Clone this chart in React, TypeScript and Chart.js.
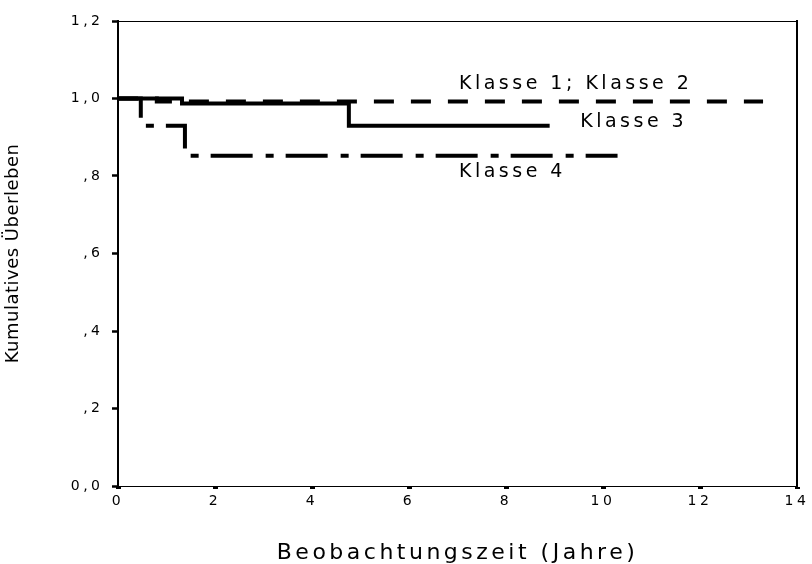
import React, { useEffect, useRef } from 'react';
import { Chart, registerables } from 'chart.js';

Chart.register(...registerables);

// ---- data ----
const timesK12 = [0, 0.8, 13.3];
const survK12 = [1.0, 0.992, 0.992];
const timesK3 = [0, 1.32, 4.76, 8.9];
const survK3 = [1.0, 0.987, 0.93, 0.93];
const timesK4 = [0, 0.47, 1.38, 10.3];
const survK4 = [1.0, 0.93, 0.852, 0.852];

const yTickValues = [0, 0.2, 0.4, 0.6, 0.8, 1.0, 1.2];
const yTickLabels = ['0,0', ',2', ',4', ',6', ',8', '1,0', '1,2'];
const xTickValues = [0, 2, 4, 6, 8, 10, 12, 14];
const xTickLabels = ['0', '2', '4', '6', '8', '10', '12', '14'];

const labelTexts = ['Klasse 1; Klasse 2', 'Klasse 3', 'Klasse 4'];
const labelTimes = [7.03, 9.53, 7.03];
const labelSurv = [1.036, 0.938, 0.809];

const FONT = '"DejaVu Sans", "Liberation Sans", sans-serif';
const SPACING = '3.5px';

const toPoints = (t: number[], s: number[]) => t.map((x, i) => ({ x, y: s[i] }));

const spacingPlugin = {
  id: 'spacing',
  beforeDraw(chart: any) {
    const ctx = chart.ctx;
    ctx.letterSpacing = SPACING;
    const y: any = chart.scales.y;
    if (y && !y.__patched) {
      const orig = y.drawTitle.bind(y);
      y.drawTitle = () => {
        const prev = ctx.letterSpacing;
        ctx.letterSpacing = '0.5px';
        orig();
        ctx.letterSpacing = prev;
      };
      y.__patched = true;
    }
  },
};

const labelsPlugin = {
  id: 'curveLabels',
  afterDatasetsDraw(chart: any) {
    const { ctx, scales } = chart;
    ctx.save();
    ctx.letterSpacing = SPACING;
    ctx.font = `19px ${FONT}`;
    ctx.fillStyle = '#000';
    ctx.textAlign = 'left';
    ctx.textBaseline = 'middle';
    labelTexts.forEach((txt, i) => {
      ctx.fillText(txt, scales.x.getPixelForValue(labelTimes[i]), scales.y.getPixelForValue(labelSurv[i]));
    });
    ctx.restore();
  },
};

export default function App() {
  const ref = useRef<HTMLCanvasElement | null>(null);

  useEffect(() => {
    if (!ref.current) return;
    Chart.defaults.color = '#000';
    const common = {
      type: 'line',
      borderColor: '#000',
      backgroundColor: '#000',
      borderWidth: 4,
      pointRadius: 0,
      stepped: true,
      fill: false,
      borderCapStyle: 'butt',
    };
    const chart = new Chart(ref.current, {
      type: 'line',
      data: {
        datasets: [
          { ...common, label: labelTexts[0], data: toPoints(timesK12, survK12), borderDash: [20, 17] },
          { ...common, label: labelTexts[1], data: toPoints(timesK3, survK3) },
          { ...common, label: labelTexts[2], data: toPoints(timesK4, survK4), borderDash: [42, 13, 8, 12] },
        ] as any,
      },
      options: {
        animation: false,
        responsive: true,
        maintainAspectRatio: false,
        layout: { padding: { top: 21, right: 15, bottom: 0, left: 0 } },
        plugins: { legend: { display: false }, tooltip: { enabled: false } },
        scales: {
          x: {
            type: 'linear',
            position: 'bottom',
            min: 0,
            max: 14,
            afterBuildTicks: (s: any) => {
              s.ticks = xTickValues.map((v) => ({ value: v }));
            },
            afterFit: (s: any) => {
              s.height = 78;
            },
            ticks: {
              font: { family: FONT, size: 14 },
              padding: 4,
              maxRotation: 0,
              autoSkip: false,
              callback: (v: any) => xTickLabels[xTickValues.indexOf(Number(v))] ?? '',
            },
            grid: { display: true, drawOnChartArea: false, drawTicks: true, tickLength: 3, tickWidth: 5, tickColor: '#000' },
            border: { display: true, color: '#000', width: 1 },
            title: {
              display: true,
              text: 'Beobachtungszeit (Jahre)',
              font: { family: FONT, size: 22, lineHeight: 1 },
              padding: { top: 0, bottom: 0 },
              color: '#000',
            },
          },
          y: {
            type: 'linear',
            position: 'left',
            min: 0,
            max: 1.2,
            afterBuildTicks: (s: any) => {
              s.ticks = yTickValues.map((v) => ({ value: v }));
            },
            afterFit: (s: any) => {
              s.width = 118;
            },
            ticks: {
              font: { family: FONT, size: 14 },
              padding: 8.5,
              autoSkip: false,
              callback: (v: any) => {
                const i = yTickValues.findIndex((t) => Math.abs(t - Number(v)) < 1e-6);
                return i >= 0 ? yTickLabels[i] : '';
              },
            },
            grid: { display: true, drawOnChartArea: false, drawTicks: true, tickLength: 6, tickWidth: 2.5, tickColor: '#000' },
            border: { display: true, color: '#000', width: 2 },
            title: {
              display: true,
              text: 'Kumulatives Überleben',
              font: { family: FONT, size: 18 },
              padding: { top: 3, bottom: 0 },
              color: '#000',
            },
          },
          x2: {
            type: 'linear',
            position: 'top',
            min: 0,
            max: 14,
            ticks: { display: false },
            grid: { display: false, drawTicks: false },
            border: { display: true, color: '#000', width: 1 },
            afterFit: (s: any) => {
              s.height = 0;
            },
          },
          y2: {
            type: 'linear',
            position: 'right',
            min: 0,
            max: 1.2,
            ticks: { display: false },
            grid: { display: false, drawTicks: false },
            border: { display: true, color: '#000', width: 2 },
            afterFit: (s: any) => {
              s.width = 0;
            },
          },
        },
      } as any,
      plugins: [spacingPlugin, labelsPlugin],
    });
    return () => chart.destroy();
  }, []);

  return (
    <div style={{ position: 'fixed', left: 0, top: 0, width: 812, height: 564, background: '#fff' }}>
      <canvas ref={ref} />
    </div>
  );
}
